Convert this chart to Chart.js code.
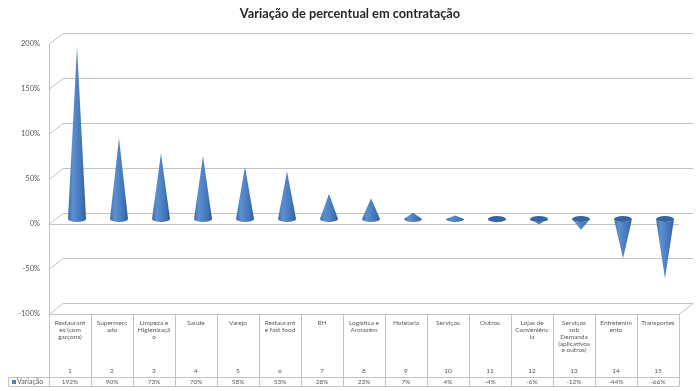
<!DOCTYPE html>
<html>
<head>
<meta charset="utf-8">
<script src="https://cdn.jsdelivr.net/npm/chart.js@4.4.1/dist/chart.umd.min.js"></script>
<style>
  body { margin: 0; background: #fff; }
  #wrap { width: 700px; height: 391px; }
</style>
</head>
<body>
<div id="wrap"><canvas id="myChart"></canvas></div>
<script>
// categories, wrapped the way the data table shows them
const categories = [
  ["Restaurant", "es (com", "garçons)"],
  ["Supermerc", "ado"],
  ["Limpeza e", "Higienizaçã", "o"],
  ["Saúde"],
  ["Varejo"],
  ["Restaurant", "e fast food"],
  ["RH"],
  ["Logística e", "Armazém"],
  ["Hotelaria"],
  ["Serviços"],
  ["Outros"],
  ["Lojas de", "Conveniênc", "ia"],
  ["Serviços", "sob", "Demanda", "(aplicativos", "e outros)"],
  ["Entretenim", "ento"],
  ["Transportes"],
];
const catNumbers = ["1", "2", "3", "4", "5", "6", "7", "8", "9", "10", "11", "12", "13", "14", "15"];
// variação in %
const variacao = [192, 90, 73, 70, 58, 53, 28, 23, 7, 4, -4, -6, -12, -44, -66];
const yTicks = [200, 150, 100, 50, 0, -50, -100];
const seriesName = "Variação";

const FONT = "Lato, 'Open Sans', sans-serif";
const GRID = "#c3c3c3";
const TXT = "#595959";
// depth of the fake 3d box
const DX = 14, DY = 11;

// back wall, left wall, floor and the data table
const boxPlugin = {
  id: "box3d",
  beforeDatasetsDraw(chart) {
    const { ctx, chartArea: a, scales } = chart;
    const y = scales.y;
    ctx.save();
    ctx.strokeStyle = GRID;
    ctx.lineWidth = 1;
    yTicks.forEach((v) => {
      const py = Math.round(y.getPixelForValue(v)) + 0.5;
      ctx.beginPath();
      ctx.moveTo(a.left, py);
      ctx.lineTo(a.left + DX, py - DY);
      ctx.lineTo(a.right + DX, py - DY);
      ctx.stroke();
    });
    // front 0% line
    const p0 = Math.round(y.getPixelForValue(0)) + 0.5;
    ctx.beginPath();
    ctx.moveTo(a.left, p0);
    ctx.lineTo(a.right, p0);
    ctx.stroke();
    // floor front + right edge
    const pb = Math.round(y.getPixelForValue(-100)) + 0.5;
    ctx.beginPath();
    ctx.moveTo(a.left, pb);
    ctx.lineTo(a.right, pb);
    ctx.lineTo(a.right + DX, pb - DY);
    ctx.stroke();
    // left front edge
    const lx = Math.round(a.left) + 0.5;
    ctx.beginPath();
    ctx.moveTo(lx, y.getPixelForValue(200));
    ctx.lineTo(lx, pb);
    ctx.stroke();
    ctx.restore();
  },
  afterDraw(chart) {
    const { ctx, chartArea: a, scales } = chart;
    const x = scales.x;
    const pb = Math.round(scales.y.getPixelForValue(-100)) + 0.5;
    const rowTop = 377.5, rowBot = 386.5;
    const colW = x.getPixelForValue(1) - x.getPixelForValue(0);
    ctx.save();
    ctx.strokeStyle = GRID;
    ctx.lineWidth = 1;
    ctx.beginPath();
    for (let i = 0; i <= categories.length; i++) {
      const cx = Math.round(x.getPixelForValue(i) - colW / 2) + 0.5;
      ctx.moveTo(cx, pb);
      ctx.lineTo(cx, rowBot);
    }
    ctx.moveTo(8.5, rowTop);
    ctx.lineTo(a.right, rowTop);
    ctx.moveTo(8.5, rowBot);
    ctx.lineTo(a.right, rowBot);
    ctx.moveTo(8.5, rowTop);
    ctx.lineTo(8.5, rowBot);
    ctx.stroke();

    ctx.fillStyle = TXT;
    ctx.font = "6.5px " + FONT;
    ctx.textAlign = "center";
    ctx.textBaseline = "middle";
    variacao.forEach((v, i) => {
      const cx = x.getPixelForValue(i);
      ctx.fillText(catNumbers[i], cx, 371);
      ctx.fillText(v + "%", cx, 382);
    });
    // legend key in the table
    ctx.fillStyle = "#4f81bd";
    ctx.fillRect(12, 380, 4, 4);
    ctx.fillStyle = TXT;
    ctx.textAlign = "left";
    ctx.font = "7px " + FONT;
    ctx.fillText(seriesName, 17, 382);
    ctx.restore();
  },
};

// draw each bar as an Excel style cone
const conePlugin = {
  id: "cones",
  afterDatasetsDraw(chart) {
    const { ctx } = chart;
    const meta = chart.getDatasetMeta(0);
    const r = 9, ry = 3, dx = 7, dy = -5;
    ctx.save();
    meta.data.forEach((el) => {
      const cx = el.x + dx;
      const tip = el.y + dy;
      const base = el.base + dy;
      const g = ctx.createLinearGradient(cx - r, 0, cx + r, 0);
      g.addColorStop(0, "#3a6cad");
      g.addColorStop(0.25, "#5b8fd0");
      g.addColorStop(0.45, "#5286c8");
      g.addColorStop(0.8, "#3f71b2");
      g.addColorStop(1, "#2c5892");
      ctx.fillStyle = g;
      ctx.beginPath();
      ctx.moveTo(cx - r, base);
      ctx.lineTo(cx, tip);
      ctx.lineTo(cx + r, base);
      ctx.ellipse(cx, base, r, ry, 0, 0, Math.PI, false);
      ctx.fill();
      if (tip > base) {
        // top face of a downward cone
        ctx.fillStyle = "#35649f";
        ctx.beginPath();
        ctx.ellipse(cx, base, r, ry, 0, 0, Math.PI * 2);
        ctx.fill();
      }
    });
    ctx.restore();
  },
};

const ctx = document.getElementById("myChart").getContext("2d");
const myChart = new Chart(ctx, {
  type: "bar",
  data: {
    labels: categories,
    datasets: [
      {
        label: seriesName,
        data: variacao,
        backgroundColor: "rgba(0,0,0,0)",
        borderWidth: 0,
      },
    ],
  },
  options: {
    responsive: true,
    maintainAspectRatio: false,
    animation: false,
    events: [],
    layout: { padding: 0 },
    plugins: {
      legend: { display: false },
      tooltip: { enabled: false },
      title: {
        display: true,
        text: "Variação de percentual em contratação",
        color: "#262626",
        font: { family: FONT, size: 12.75, weight: "bold" },
        padding: { top: 6, bottom: 22.7 },
      },
    },
    scales: {
      x: {
        grid: { display: false, drawTicks: false },
        border: { display: false },
        ticks: {
          color: TXT,
          font: { family: FONT, size: 6.5, lineHeight: 1.03 },
          padding: 6,
          maxRotation: 0,
          autoSkip: false,
        },
        afterFit: (s) => { s.height = 77; },
      },
      y: {
        min: -100,
        max: 200,
        grid: { display: false, drawTicks: false },
        border: { display: false },
        ticks: {
          stepSize: 50,
          color: TXT,
          font: { family: FONT, size: 7.5 },
          padding: 9,
          callback: (v) => v + "%",
        },
        afterFit: (s) => { s.width = 49; },
      },
      // empty strip on the right, keeps the title centred on the page
      yRight: {
        position: "right",
        grid: { display: false, drawTicks: false },
        border: { display: false },
        ticks: { display: false },
        afterFit: (s) => { s.width = 21; },
      },
    },
  },
  plugins: [boxPlugin, conePlugin],
});
</script>
</body>
</html>
